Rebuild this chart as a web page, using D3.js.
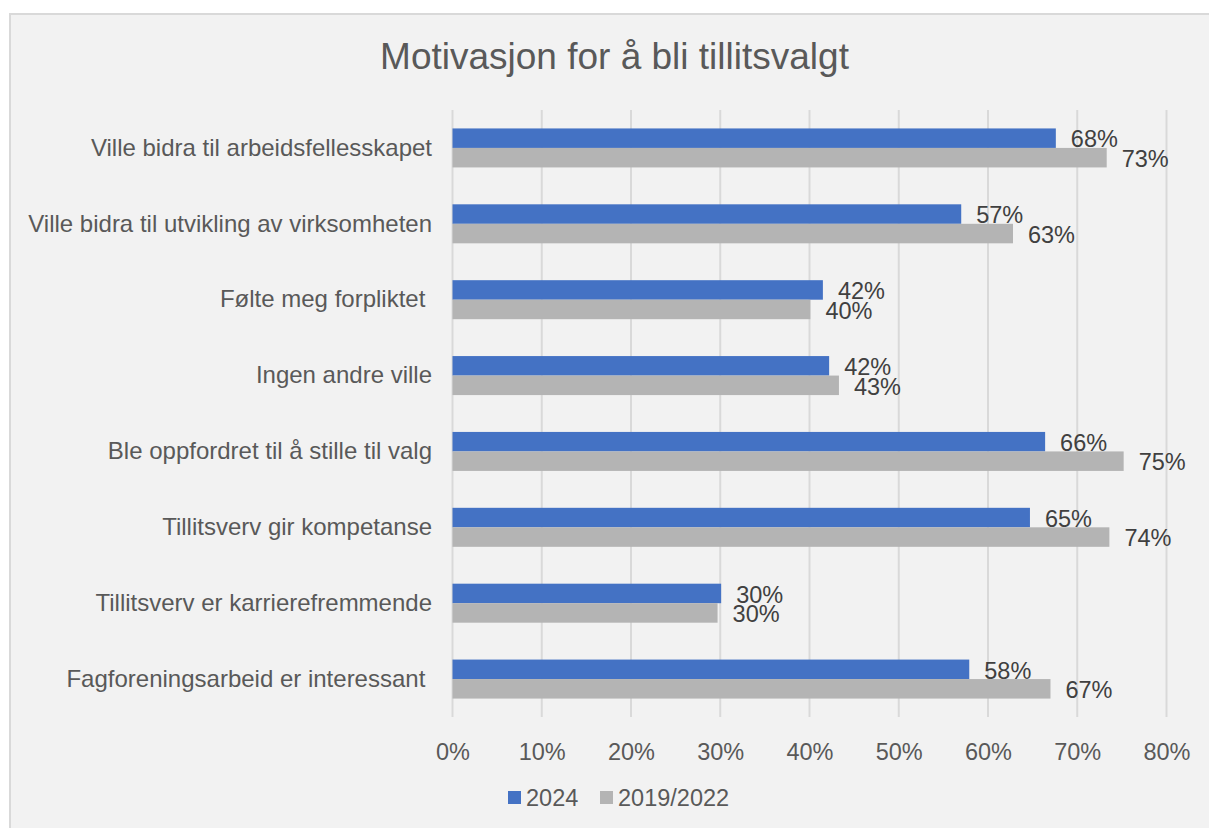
<!DOCTYPE html>
<html>
<head>
<meta charset="utf-8">
<script src="https://cdn.jsdelivr.net/npm/d3@7"></script>
<style>
  body { margin: 0; background: #fff; }
  text { font-family: "Liberation Sans", Arial, sans-serif; }
</style>
</head>
<body>
<div id="chart"></div>
<script>
var categories = [
  "Ville bidra til arbeidsfellesskapet",
  "Ville bidra til utvikling av virksomheten",
  "Følte meg forpliktet ",
  "Ingen andre ville",
  "Ble oppfordret til å stille til valg",
  "Tillitsverv gir kompetanse",
  "Tillitsverv er karrierefremmende",
  "Fagforeningsarbeid er interessant "
];
var seriesNames = ["2024", "2019/2022"];
var values2024 = [67.6, 57.0, 41.5, 42.2, 66.4, 64.7, 30.1, 57.9];
var values2019 = [73.3, 62.8, 40.1, 43.3, 75.2, 73.6, 29.7, 67.0];
var tickValues = [0, 10, 20, 30, 40, 50, 60, 70, 80];
var colors = ["#4472c4", "#b4b4b4"];

var W = 1209, H = 828;
var margin = {top: 110, right: 42, bottom: 111, left: 452.5};

var svg = d3.select("#chart")
  .append("svg")
    .attr("width", W)
    .attr("height", H);

// chart area
svg.append("rect")
  .attr("x", 10).attr("y", 14)
  .attr("width", W).attr("height", H)
  .attr("fill", "#f2f2f2")
  .attr("stroke", "#d9d9d9")
  .attr("stroke-width", 2);

svg.append("text")
  .attr("x", 614.5)
  .attr("y", 69)
  .attr("text-anchor", "middle")
  .style("font-size", "37px")
  .attr("fill", "#595959")
  .text("Motivasjon for å bli tillitsvalgt");

var x = d3.scaleLinear()
  .domain([0, 80])
  .range([margin.left, 1166.5]);

var y = d3.scaleBand()
  .domain(categories)
  .range([margin.top, H - margin.bottom])
  .paddingInner(0.486)
  .paddingOuter(0.243);

var ySub = d3.scaleBand()
  .domain(seriesNames)
  .range([0, y.bandwidth()]);

// gridlines
svg.append("g")
  .selectAll("line")
  .data(tickValues)
  .enter()
  .append("line")
    .attr("x1", function(d) { return x(d); })
    .attr("x2", function(d) { return x(d); })
    .attr("y1", margin.top)
    .attr("y2", H - margin.bottom)
    .attr("stroke", "#d9d9d9")
    .attr("stroke-width", 2);

// x axis labels
var xAxis = svg.append("g")
  .attr("transform", "translate(0," + (H - margin.bottom) + ")")
  .call(d3.axisBottom(x).tickValues(tickValues).tickSize(0).tickPadding(26)
    .tickFormat(function(d) { return d + "%"; }));
xAxis.select(".domain").remove();
xAxis.selectAll("text")
  .style("font-size", "23.5px")
  .attr("fill", "#595959");

// category labels
var yAxis = svg.append("g")
  .attr("transform", "translate(" + (margin.left - 20.5) + ",0)")
  .call(d3.axisLeft(y).tickSize(0).tickPadding(0));
yAxis.select(".domain").remove();
yAxis.selectAll("text")
  .style("font-size", "24px")
  .style("white-space", "pre")
  .attr("fill", "#595959");

var rows = categories.map(function(c, i) {
  return {cat: c, vals: [{s: seriesNames[0], v: values2024[i]}, {s: seriesNames[1], v: values2019[i]}]};
});

var groups = svg.selectAll(".grp")
  .data(rows)
  .enter()
  .append("g")
    .attr("transform", function(d) { return "translate(0," + y(d.cat) + ")"; });

groups.selectAll("rect")
  .data(function(d) { return d.vals; })
  .enter()
  .append("rect")
    .attr("x", x(0))
    .attr("y", function(d) { return ySub(d.s); })
    .attr("width", function(d) { return x(d.v) - x(0); })
    .attr("height", ySub.bandwidth())
    .attr("fill", function(d, i) { return colors[i]; });

groups.selectAll(".lbl")
  .data(function(d) { return d.vals; })
  .enter()
  .append("text")
    .attr("x", function(d) { return x(d.v) + 15; })
    .attr("y", function(d) { return ySub(d.s) + ySub.bandwidth() / 2 + 1; })
    .attr("dy", "0.35em")
    .style("font-size", "23.5px")
    .attr("fill", "#404040")
    .text(function(d) { return Math.round(d.v) + "%"; });

// legend
var legend = svg.append("g");
var legX = [508, 600];
seriesNames.forEach(function(s, i) {
  legend.append("rect")
    .attr("x", legX[i]).attr("y", 791)
    .attr("width", 13).attr("height", 13)
    .attr("fill", colors[i]);
  legend.append("text")
    .attr("x", legX[i] + 18).attr("y", 806)
    .style("font-size", "23.5px")
    .attr("fill", "#595959")
    .text(s);
});
</script>
</body>
</html>
